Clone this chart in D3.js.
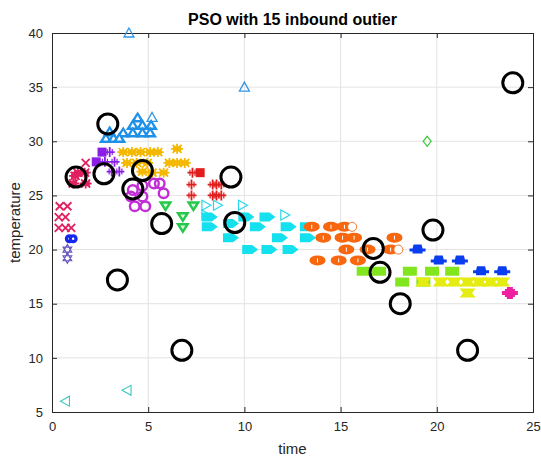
<!DOCTYPE html>
<html>
<head>
<meta charset="utf-8">
<script src="https://cdn.jsdelivr.net/npm/d3@7"></script>
<style>
  html, body { margin: 0; padding: 0; background: #fff; }
  svg text { font-family: "Liberation Sans", Arial, sans-serif; }
</style>
</head>
<body>
<svg id="chart" width="541" height="459"></svg>
<script>
// ---- data ----
const xTicks = [0, 5, 10, 15, 20, 25];
const yTicks = [5, 10, 15, 20, 25, 30, 35, 40];

const crimsonX = [0.4, 0.8, 0.35, 0.7, 0.35, 0.7, 1.0, 1.75];
const crimsonY = [24, 24, 23, 23, 22, 22, 22, 28];
const crimsonStarX = [1.1, 1.75, 1.35, 1.7, 1.2];
const crimsonStarY = [26.1, 26.1, 27.1, 27.1, 26.8];
const blueDotX = [0.9, 1.1];
const blueDotY = [21, 21];
const hexX = [0.8, 0.8];
const hexY = [20, 19.2];
const tealLeftX = [0.7, 3.9];
const tealLeftY = [6, 7];
const skyOutlineX = [4.0, 10.0, 5.2];
const skyOutlineY = [40, 35, 32.2];
const skyTriX = [4.45, 4.2, 4.7, 5.15, 3.7, 4.2, 4.7, 5.1, 2.8, 3.2, 3.5, 3.0];
const skyTriY = [32.2, 31.5, 31.5, 31.5, 30.8, 30.8, 30.8, 30.8, 30.3, 30.3, 30.3, 30.9];
const purpleSqX = [2.6, 2.3];
const purpleSqY = [29.0, 28.1];
const purplePlusX = [3.0, 2.75, 3.25, 3.5, 3.1];
const purplePlusY = [29.0, 28.1, 28.1, 27.2, 27.2];
const goldX = [3.7, 4.15, 4.6, 5.1, 5.5, 6.5, 3.9, 4.4, 4.95, 6.1, 6.5, 6.9, 5.2, 5.8, 4.7];
const goldY = [29, 29, 29, 29, 29, 29.3, 28, 28, 28, 28, 28, 28, 27.1, 27.1, 27.2];
const orchidX = [4.2, 4.7, 5.3, 5.6, 5.8, 4.1, 4.7, 4.3, 4.85];
const orchidY = [25.5, 25.9, 26.1, 26.1, 25.2, 24.9, 24.9, 24.0, 24.0];
const redPlusX = [7.3, 7.25, 7.25, 8.35, 8.55, 8.8, 8.35, 8.55, 8.8];
const redPlusY = [27.1, 26, 25, 26, 26, 26, 25, 25, 25];
const redSqX = [7.7];
const redSqY = [27.1];
const greenTriX = [5.9, 7.35, 6.8, 6.8];
const greenTriY = [24, 24, 23, 22];
const cyanX = [8.2, 8.2, 9.3, 10.1, 10.7, 11.2, 11.85, 12.3, 10.3, 11.3, 12.4, 13.3, 13.3, 9.3];
const cyanY = [23, 22.1, 21.1, 23, 22.1, 23, 21.1, 22.1, 20, 20, 20, 21.1, 22.1, 22.4];
const cyanOutlineX = [8.0, 8.6, 9.9, 8.0, 12.1];
const cyanOutlineY = [24.1, 24.1, 24.1, 23.2, 23.2];
const orangeX = [13.5, 14.5, 15.2, 14.1, 15.1, 15.7, 17.8, 15.3, 16.4, 17.6, 13.8, 14.9, 15.9];
const orangeY = [22.1, 22.1, 22.1, 21.1, 21.1, 21.1, 21.1, 20, 20, 20, 19, 19, 19];
const orangeRingX = [15.6, 18.0];
const orangeRingY = [22.1, 20.0];
const limeX = [16.2, 17.0, 18.6, 19.75, 20.8, 18.2, 19.3];
const limeY = [18, 18, 18, 18, 18, 17, 17];
const yellowX = [19.3, 20.2, 20.9, 21.6, 22.2, 22.8, 23.4, 21.6];
const yellowY = [17, 17, 17, 17, 17, 17, 17, 16];
const hatX = [19, 20.1, 21.2, 22.3, 23.4];
const hatY = [20, 19, 19, 18, 18];
const magentaX = [23.8];
const magentaY = [16];
const diamondX = [19.5];
const diamondY = [30];
const outlierX = [1.25, 2.9, 2.7, 4.2, 4.7, 3.4, 5.7, 6.75, 9.3, 9.5, 16.7, 17.05, 18.1, 19.8, 21.6, 23.95];
const outlierY = [26.7, 31.6, 27.0, 25.6, 27.3, 17.2, 22.4, 10.7, 26.7, 22.5, 20.1, 17.9, 15.0, 21.8, 10.7, 35.4];

// ---- marker groups (drawn in order) ----
const groups = [
  { xs: crimsonX, ys: crimsonY, shape: "x", color: "#e0205f" },
  { xs: crimsonStarX, ys: crimsonStarY, shape: "asterisk", color: "#e0205f" },
  { xs: blueDotX, ys: blueDotY, shape: "dot", color: "#1526f0" },
  { xs: hexX, ys: hexY, shape: "hexagram", color: "#6a56c0" },
  { xs: tealLeftX, ys: tealLeftY, shape: "triLeftOpen", color: "#3cc8c0" },
  { xs: skyOutlineX, ys: skyOutlineY, shape: "triUpOpen", color: "#2f96e8" },
  { xs: skyTriX, ys: skyTriY, shape: "triUp", color: "#1e90e8" },
  { xs: purpleSqX, ys: purpleSqY, shape: "square", color: "#8a1ee6" },
  { xs: purplePlusX, ys: purplePlusY, shape: "plus", color: "#8a1ee6" },
  { xs: goldX, ys: goldY, shape: "asterisk", color: "#f5b800" },
  { xs: orchidX, ys: orchidY, shape: "ring", color: "#c22ed6" },
  { xs: redPlusX, ys: redPlusY, shape: "plus", color: "#e01c1c" },
  { xs: redSqX, ys: redSqY, shape: "square", color: "#e01c1c" },
  { xs: greenTriX, ys: greenTriY, shape: "triDown", color: "#25c84a" },
  { xs: cyanOutlineX, ys: cyanOutlineY, shape: "triRightOpen", color: "#28d8ea" },
  { xs: cyanX, ys: cyanY, shape: "pent", color: "#14e0ee" },
  { xs: orangeX, ys: orangeY, shape: "ellipse", color: "#f8660e" },
  { xs: orangeRingX, ys: orangeRingY, shape: "smallRing", color: "#f07830" },
  { xs: limeX, ys: limeY, shape: "rect", color: "#82e61e" },
  { xs: yellowX, ys: yellowY, shape: "bowtie", color: "#e4ec10" },
  { xs: hatX, ys: hatY, shape: "hat", color: "#0a3cf0" },
  { xs: magentaX, ys: magentaY, shape: "burst", color: "#f01ea0" },
  { xs: diamondX, ys: diamondY, shape: "diamond", color: "#3cc83c" },
];

// ---- layout ----
const svg = d3.select("#chart");
const plotLeft = 52, plotRight = 533, plotTop = 33, plotBottom = 412;
const x = d3.scaleLinear().domain([0, 25]).range([plotLeft, plotRight]);
const y = d3.scaleLinear().domain([5, 40]).range([plotBottom, plotTop]);
const axisColor = "#262626";

// grid
svg.append("g").selectAll("line").data(xTicks.slice(1, -1)).join("line")
  .attr("x1", d => x(d)).attr("x2", d => x(d)).attr("y1", plotTop).attr("y2", plotBottom)
  .attr("stroke", "#e3e3e3").attr("stroke-width", 1);
svg.append("g").selectAll("line").data(yTicks.slice(1, -1)).join("line")
  .attr("y1", d => y(d)).attr("y2", d => y(d)).attr("x1", plotLeft).attr("x2", plotRight)
  .attr("stroke", "#e3e3e3").attr("stroke-width", 1);

// axes with inward ticks on all sides
const tickLen = 5;
const bottomAxis = d3.axisBottom(x).tickValues(xTicks).tickSize(-tickLen).tickPadding(10).tickFormat(d3.format("d"));
const leftAxis = d3.axisLeft(y).tickValues(yTicks).tickSize(-tickLen).tickPadding(9).tickFormat(d3.format("d"));
const topAxis = d3.axisTop(x).tickValues(xTicks).tickSize(-tickLen).tickFormat("");
const rightAxis = d3.axisRight(y).tickValues(yTicks).tickSize(-tickLen).tickFormat("");

function styleAxis(g) {
  g.select(".domain").attr("stroke", axisColor).attr("stroke-width", 1);
  g.selectAll(".tick line").attr("stroke", axisColor);
  g.selectAll(".tick text").attr("fill", axisColor).attr("font-size", 13);
}
svg.append("g").attr("transform", `translate(0,${plotBottom})`).call(bottomAxis).call(styleAxis);
svg.append("g").attr("transform", `translate(${plotLeft},0)`).call(leftAxis).call(styleAxis);
svg.append("g").attr("transform", `translate(0,${plotTop})`).call(topAxis).call(styleAxis);
svg.append("g").attr("transform", `translate(${plotRight},0)`).call(rightAxis).call(styleAxis);

// ---- marker shapes ----
function drawMarker(g, shape, color) {
  switch (shape) {
    case "x":
      g.append("path").attr("d", "M-4,-4L4,4M-4,4L4,-4").attr("stroke", color).attr("stroke-width", 1.8).attr("fill", "none");
      break;
    case "plus":
      g.append("path").attr("d", "M-5,0L5,0M0,-5L0,5").attr("stroke", color).attr("stroke-width", 1.8).attr("fill", "none");
      g.append("path").attr("d", "M-2.5,-3L-2.5,3M2.5,-3L2.5,3").attr("stroke", color).attr("stroke-width", 1.2).attr("fill", "none");
      break;
    case "asterisk":
      g.append("path").attr("d", "M-6,0L6,0M0,-5L0,5M-4.5,-4L4.5,4M-4.5,4L4.5,-4")
        .attr("stroke", color).attr("stroke-width", 1.8).attr("fill", "none");
      g.append("rect").attr("x", -4).attr("y", -2.5).attr("width", 8).attr("height", 5).attr("fill", color);
      break;
    case "dot":
      g.append("circle").attr("r", 4.5).attr("fill", color);
      g.append("circle").attr("r", 1.2).attr("fill", "#fff");
      break;
    case "hexagram":
      g.append("path").attr("d", "M0,-5L4.3,2.5L-4.3,2.5ZM0,5L4.3,-2.5L-4.3,-2.5Z")
        .attr("stroke", color).attr("stroke-width", 1.2).attr("fill", "none");
      break;
    case "triLeftOpen":
      g.append("path").attr("d", "M-5,0L4,-5L4,5Z").attr("stroke", color).attr("stroke-width", 1.1).attr("fill", "none");
      break;
    case "triRightOpen":
      g.append("path").attr("d", "M5,0L-4,-5L-4,5Z").attr("stroke", color).attr("stroke-width", 1.2).attr("fill", "none");
      break;
    case "triUpOpen":
      g.append("path").attr("d", "M0,-5L5,4L-5,4Z").attr("stroke", color).attr("stroke-width", 1.3).attr("fill", "none");
      break;
    case "triUp":
      g.append("path").attr("d", "M0,-6L7,5L-7,5Z").attr("fill", color);
      g.append("path").attr("d", "M0,-2L2.5,2.5L-2.5,2.5Z").attr("fill", "#fff");
      break;
    case "triDown":
      g.append("path").attr("d", "M-7,-5L7,-5L0,6Z").attr("fill", color);
      g.append("path").attr("d", "M-2.5,-2.5L2.5,-2.5L0,1.5Z").attr("fill", "#d8f8dc");
      break;
    case "square":
      g.append("rect").attr("x", -4.5).attr("y", -4.5).attr("width", 9).attr("height", 9).attr("fill", color);
      break;
    case "ring":
      g.append("circle").attr("r", 4.8).attr("fill", "none").attr("stroke", color).attr("stroke-width", 2.4);
      break;
    case "smallRing":
      g.append("circle").attr("r", 4.5).attr("fill", "#fff").attr("stroke", color).attr("stroke-width", 1);
      break;
    case "pent":
      g.append("path").attr("d", "M-8,-4.5L2,-4.5L8,0L2,4.5L-8,4.5Z").attr("fill", color);
      break;
    case "ellipse":
      g.append("ellipse").attr("rx", 8).attr("ry", 5).attr("fill", color);
      g.append("path").attr("d", "M0,-2L0,2").attr("stroke", "#fff").attr("stroke-width", 1);
      break;
    case "rect":
      g.append("rect").attr("x", -7).attr("y", -4.5).attr("width", 14).attr("height", 9).attr("fill", color);
      break;
    case "bowtie":
      g.append("path").attr("d", "M-8,-4.5L8,-4.5L4.5,0L8,4.5L-8,4.5L-4.5,0Z").attr("fill", color);
      break;
    case "hat":
      g.append("path").attr("d", "M-4,-5L4,-5L5,-1L8,-1L8,2L5,2L5,4L-5,4L-5,2L-8,2L-8,-1L-5,-1Z").attr("fill", color);
      break;
    case "burst":
      g.append("path").attr("d", "M-5,-4L5,-4L5,4L-5,4Z M-8,-2L8,-2L8,2L-8,2Z M-3,-6L3,-6L3,6L-3,6Z").attr("fill", color);
      break;
    case "diamond":
      g.append("path").attr("d", "M0,-5L4,0L0,5L-4,0Z").attr("stroke", color).attr("stroke-width", 1.2).attr("fill", "none");
      break;
  }
}

const plot = svg.append("g");
groups.forEach(gr => {
  const pts = gr.xs.map((v, i) => [v, gr.ys[i]]);
  plot.append("g").selectAll("g").data(pts).join("g")
    .attr("transform", d => `translate(${x(d[0])},${y(d[1])})`)
    .each(function () { drawMarker(d3.select(this), gr.shape, gr.color); });
});

// outliers: large black rings
const outliers = outlierX.map((v, i) => [v, outlierY[i]]);
plot.append("g").selectAll("circle").data(outliers).join("circle")
  .attr("cx", d => x(d[0])).attr("cy", d => y(d[1])).attr("r", 10)
  .attr("fill", "none").attr("stroke", "#000").attr("stroke-width", 3);

// ---- labels ----
svg.append("text").attr("x", (plotLeft + plotRight) / 2).attr("y", 25).attr("text-anchor", "middle")
  .attr("font-size", 16).attr("font-weight", "bold").attr("fill", "#000").text("PSO with 15 inbound outier");
svg.append("text").attr("x", (plotLeft + plotRight) / 2).attr("y", 454).attr("text-anchor", "middle")
  .attr("font-size", 15).attr("fill", axisColor).text("time");
svg.append("text").attr("transform", `translate(20,${(plotTop + plotBottom) / 2}) rotate(-90)`)
  .attr("text-anchor", "middle").attr("font-size", 15).attr("fill", axisColor).text("temperature");
</script>
</body>
</html>
